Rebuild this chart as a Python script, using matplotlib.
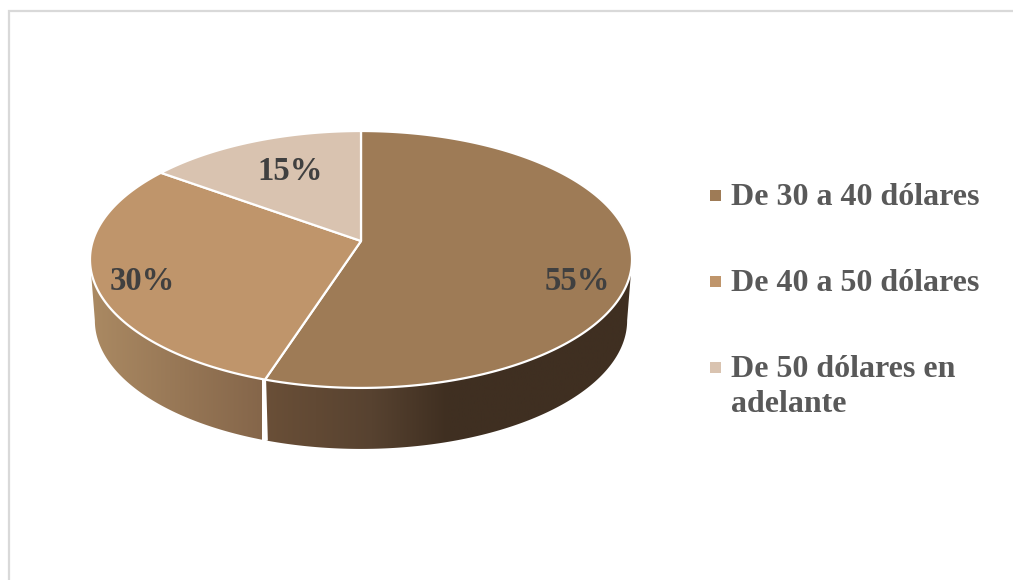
import numpy as np
import matplotlib
matplotlib.use("Agg")
import matplotlib.pyplot as plt
from matplotlib.colors import LinearSegmentedColormap
from matplotlib.patches import Polygon, Rectangle

# Data
categories = ["De 30 a 40 dólares", "De 40 a 50 dólares", "De 50 dólares en\nadelante"]
values = [55, 30, 15]
value_labels = ["55%", "30%", "15%"]

# Style
top_colors = ["#9e7b56", "#bf956b", "#d9c3b0"]
wall_stops = [
    [(0.0, "#6b5038"), (0.3, "#574230"), (0.5, "#3f2f21"), (1.0, "#3f2f21")],
    [(0.0, "#ab8a63"), (1.0, "#85664a")],
    [(0.0, "#d9c3b0"), (1.0, "#d9c3b0")],
]
wall_spans = [(259, 635), (88, 262), (160, 362)]
label_pos = [(577, 281), (142, 281), (290, 172)]
legend_y = [195, 281, 367]

CX, CY = 361.0, 241.0            # apex of the pie in pixels
A, B, K = 268.2, 125.8, 0.1438   # perspective of the disc
DEPTH = 61.0
BOTTOM_SCALE = 0.982             # lower rim is slightly narrower


def rim(theta):
    u, v = np.sin(theta), np.cos(theta)
    w = 1 + K * v
    return CX + A * u / w, CY - B * v / w


fig = plt.figure(figsize=(10.13, 5.80), dpi=100, facecolor="white")
ax = fig.add_axes([0, 0, 1, 1])
ax.set_xlim(0, 1013)
ax.set_ylim(580, 0)
ax.axis("off")

# chart frame
ax.plot([8.5, 8.5, 1013], [580, 11, 11], color="#d9d9d9", lw=1.6, solid_joinstyle="miter")

edges = np.deg2rad(np.concatenate([[0], np.cumsum(values)]) / np.sum(values) * 360)
slices = list(zip(edges[:-1], edges[1:]))

# only the front of the rim has a visible wall
front_start = np.arccos(-K)
front_end = 2 * np.pi - front_start

# walls
for i, (a, b) in enumerate(slices):
    a, b = max(a, front_start), min(b, front_end)
    if a >= b:
        continue
    t = np.linspace(a, b, 240)
    x, y = rim(t)
    xb = CX + (x - CX) * BOTTOM_SCALE
    verts = np.vstack([np.c_[x, y], np.c_[xb, y + DEPTH][::-1]])
    poly = Polygon(verts, closed=True, fc="none", ec="none", transform=ax.transData)
    ax.add_patch(poly)
    cmap = LinearSegmentedColormap.from_list(f"w{i}", wall_stops[i])
    x0, x1 = wall_spans[i]
    img = ax.imshow(np.linspace(0, 1, 256)[None, :], cmap=cmap, aspect="auto",
                    extent=(x0, x1, 470, 120), zorder=1)
    img.set_clip_path(poly)

# seam on the visible wall edge
sx, sy = rim(edges[1])
ax.plot([sx, CX + (sx - CX) * BOTTOM_SCALE], [sy, sy + DEPTH], color="white", lw=1.6,
        zorder=2, solid_capstyle="butt")

# top face
for (a, b), col in zip(slices, top_colors):
    t = np.linspace(a, b, 240)
    x, y = rim(t)
    verts = np.vstack([[CX, CY], np.c_[x, y]])
    ax.add_patch(Polygon(verts, closed=True, fc=col, ec="white", lw=1.6,
                         joinstyle="round", zorder=3))

serif = "Liberation Serif"
for (px, py), lab in zip(label_pos, value_labels):
    ax.text(px, py, lab, ha="center", va="center", family=serif, weight="bold",
            fontsize=23.5, color="#404040", zorder=5)

for y, cat, col in zip(legend_y, categories, top_colors):
    ax.add_patch(Rectangle((710, y - 5.5), 11, 11, fc=col, ec="none", zorder=4))
    ax.text(731, y - 12, cat, ha="left", va="top", family=serif, weight="bold",
            fontsize=23, color="#595959", linespacing=1.29, zorder=5)

ax.set_xlim(0, 1013)
ax.set_ylim(580, 0)
fig.savefig("out.png", dpi=100, facecolor="white")
